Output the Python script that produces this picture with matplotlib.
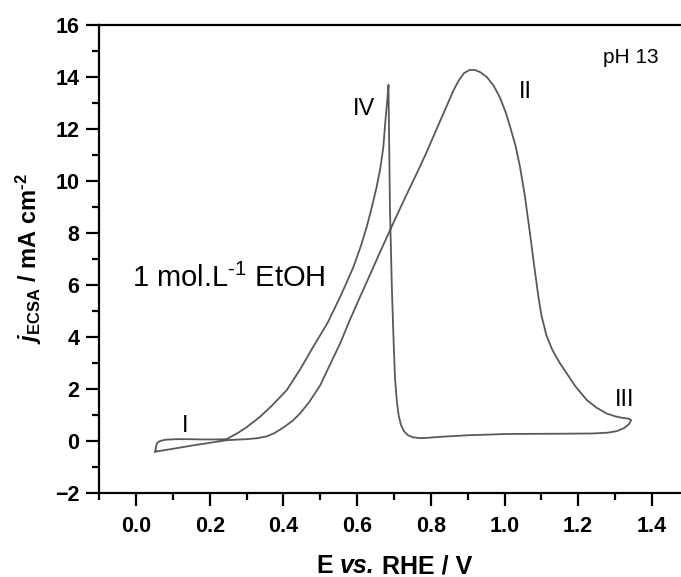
"""
Cyclic voltammogram of ethanol oxidation (1 mol/L EtOH, pH 13)
"""

import matplotlib
matplotlib.use('Agg')
import matplotlib.pyplot as plt
from matplotlib.ticker import MultipleLocator

plt.rcParams['font.family'] = ['Liberation Sans', 'DejaVu Sans']
plt.rcParams['mathtext.fontset'] = 'custom'
plt.rcParams['mathtext.rm'] = 'Liberation Sans'
plt.rcParams['mathtext.it'] = 'Liberation Sans:italic'
plt.rcParams['mathtext.bf'] = 'Liberation Sans:bold'
plt.rcParams['mathtext.bfit'] = 'Liberation Sans:italic:bold'

HYPHEN = '\u2010'

# Closed CV loop: forward scan to 1.34 V, then back down to 0.05 V
potential_v = [
    0.052, 0.10, 0.15, 0.20, 0.246, 0.27, 0.30, 0.33, 0.355, 0.375,
    0.40, 0.425, 0.445, 0.47, 0.50, 0.525, 0.554, 0.58, 0.608, 0.635,
    0.66, 0.689, 0.715, 0.74, 0.762, 0.785, 0.805, 0.825, 0.845, 0.862,
    0.875, 0.89, 0.905, 0.92, 0.935, 0.952, 0.97, 0.988, 1.003, 1.015,
    1.03, 1.042, 1.055, 1.069, 1.08, 1.092, 1.10, 1.114, 1.13, 1.15,
    1.169, 1.19, 1.21, 1.223, 1.25, 1.277, 1.30, 1.32, 1.337, 1.344,
    1.338, 1.325, 1.305, 1.28, 1.24, 1.15, 1.006, 0.90, 0.825, 0.79,
    0.771, 0.752, 0.738, 0.727, 0.719, 0.713, 0.708, 0.703, 0.699, 0.694,
    0.689, 0.685, 0.681, 0.676, 0.671, 0.663, 0.653, 0.64, 0.626, 0.61,
    0.59, 0.57, 0.554, 0.52, 0.481, 0.445, 0.409, 0.37, 0.337, 0.30,
    0.275, 0.262, 0.246, 0.22, 0.18, 0.14, 0.11, 0.08, 0.065, 0.057,
    0.054, 0.052,
]
current_ma_cm2 = [
    -0.41, -0.30, -0.18, -0.07, 0.03, 0.05, 0.07, 0.11, 0.18, 0.30,
    0.52, 0.78, 1.06, 1.50, 2.15, 2.90, 3.76, 4.65, 5.55, 6.40,
    7.20, 8.10, 8.90, 9.65, 10.30, 11.00, 11.65, 12.30, 12.95, 13.50,
    13.85, 14.15, 14.27, 14.27, 14.18, 14.00, 13.68, 13.20, 12.65, 12.10,
    11.35, 10.55, 9.45, 8.00, 6.80, 5.55, 4.85, 4.05, 3.50, 3.00,
    2.60, 2.15, 1.80, 1.58, 1.28, 1.06, 0.95, 0.89, 0.86, 0.80,
    0.65, 0.50, 0.38, 0.32, 0.29, 0.28, 0.27, 0.22, 0.16, 0.12,
    0.11, 0.14, 0.22, 0.38, 0.62, 0.95, 1.50, 2.35, 3.80, 6.00,
    9.00, 13.70, 13.00, 12.20, 11.30, 10.50, 9.78, 9.00, 8.24, 7.50,
    6.70, 6.05, 5.55, 4.55, 3.63, 2.75, 1.96, 1.38, 0.94, 0.53,
    0.30, 0.20, 0.07, 0.06, 0.06, 0.07, 0.07, 0.05, 0.00, -0.08,
    -0.22, -0.41,
]

# Peak labels (text, E, j)
peak_labels = ['I', 'II', 'III', 'IV']
peak_label_x = [0.133, 1.056, 1.326, 0.619]
peak_label_y = [0.36, 13.2, 1.35, 12.54]

x_ticks = [0.0, 0.2, 0.4, 0.6, 0.8, 1.0, 1.2, 1.4]
y_ticks = [-2, 0, 2, 4, 6, 8, 10, 12, 14, 16]

line_color = '#595959'
axis_lw = 1.6

fig = plt.figure(figsize=(6.81, 5.77), dpi=100)
ax = fig.add_axes([0.1458, 0.1456, 0.8655, 0.811])

ax.plot(potential_v, current_ma_cm2, color=line_color, linewidth=1.3,
        solid_joinstyle='round')

ax.set_xlim(-0.1, 1.5)
ax.set_ylim(-2, 16)

ax.set_xticks(x_ticks)
ax.set_xticklabels([f'{v:.1f}' for v in x_ticks])
ax.set_yticks(y_ticks)
ax.set_yticklabels(['\u22122' if v < 0 else str(v) for v in y_ticks])
ax.xaxis.set_minor_locator(MultipleLocator(0.1))
ax.yaxis.set_minor_locator(MultipleLocator(1))

ax.spines['right'].set_visible(False)
for name in ('left', 'bottom', 'top'):
    ax.spines[name].set_linewidth(axis_lw)
    ax.spines[name].set_color('black')

ax.tick_params(which='major', direction='out', length=9.5, width=axis_lw,
               labelsize=15.5, pad=5)
ax.tick_params(which='minor', direction='out', length=5, width=axis_lw)
ax.tick_params(axis='x', which='major', pad=7)
ax.tick_params(top=False, right=False, which='both')
for lbl in ax.get_xticklabels() + ax.get_yticklabels():
    lbl.set_fontweight('bold')

# x label in three pieces so that only "vs." is italic
lab_fs = 18
space_pt = 0.278 * lab_fs
t1 = fig.text(316.5 / 681, 4 / 577, 'E', fontsize=lab_fs, fontweight='bold',
              ha='left', va='baseline')
t2 = ax.annotate('vs.', xy=(1, 0), xycoords=t1, xytext=(space_pt, 0),
                 textcoords='offset points', fontsize=lab_fs,
                 fontweight='bold', fontstyle='italic', ha='left', va='bottom')
t3 = ax.annotate('RHE / V', xy=(1, 0), xycoords=t2, xytext=(space_pt, 0),
                 textcoords='offset points', fontsize=lab_fs,
                 fontweight='bold', ha='left', va='bottom')

ylabel = (r'$\mathbfit{j}_{\mathbf{ECSA}}\ \mathbf{/\ mA\ cm}^{\mathbf{'
          + HYPHEN + r'2}}$')
fig.text(28.5 / 681, 0.1456 + 0.811 / 2, ylabel,
         rotation=90, ha='center', va='center', fontsize=17)

ax.text(-0.012, 5.93, r'1 mol.L$^{' + HYPHEN + r'1}$ EtOH', fontsize=21,
        ha='left', va='baseline')
ax.text(1.267, 14.54, 'pH 13', fontsize=15, ha='left', va='baseline')

for txt, px, py in zip(peak_labels, peak_label_x, peak_label_y):
    ax.text(px, py, txt, fontsize=17, ha='center', va='baseline')

fig.savefig('out.png', dpi=100, facecolor='white')
plt.close(fig)
